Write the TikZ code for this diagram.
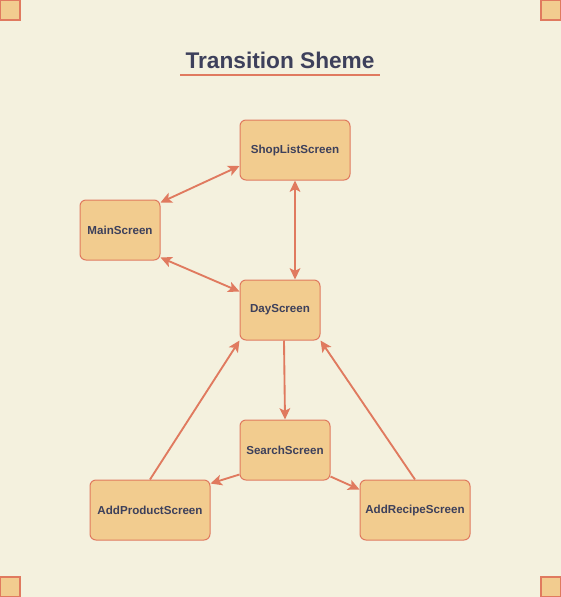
\documentclass[tikz,border=0pt]{standalone}
\usepackage{fontspec}
\setmainfont{Liberation Sans}
\usetikzlibrary{arrows.meta}
\definecolor{paper}{HTML}{F4F1DE}
\definecolor{boxfill}{HTML}{F2CC8F}
\definecolor{boxline}{HTML}{E07A5F}
\definecolor{ink}{HTML}{3D405B}
\tikzset{
	screen/.style={draw=boxline, fill=boxfill, rounded corners=4.5pt, line width=0.75pt,
		inner sep=0pt, text=ink, font=\fontsize{8.7}{10}\selectfont\bfseries},
	corner/.style={draw=boxline, fill=boxfill, line width=1.1pt},
	tip/.tip={Stealth[length=8.5pt,width=8pt,inset=2pt]},
	link/.style={draw=boxline, line width=1.4pt, -tip},
	both/.style={draw=boxline, line width=1.4pt, tip-tip}
}
\begin{document}
\begin{tikzpicture}[x=0.75pt, y=-0.75pt]
	        \fill [paper] (0, 0) rectangle (561, 597);
	        \useasboundingbox (0, 0) rectangle (561, 597);
	        
	        % corner marks
	        \draw [corner] (0.6, 0.6) rectangle (20, 20);
	        \draw [corner] (541, 0.6) rectangle (560.4, 20);
	        \draw [corner] (0.6, 577) rectangle (20, 596.4);
	        \draw [corner] (541, 577) rectangle (560.4, 596.4);
	        
	        % title
	        \node [inner sep=0pt, text=ink, font=\fontsize{17}{20}\selectfont\bfseries] at (280, 60) (title) {Transition Sheme};
	        \draw [boxline, line width=1.4pt] (180, 75) -- (380, 75);
	        
	        \node [screen, minimum width=82.5pt, minimum height=45pt] at (295, 150) (shop) {ShopListScreen};
	        \node [screen, minimum width=60pt, minimum height=45pt] at (120, 230) (main) {MainScreen};
	        \node [screen, minimum width=60pt, minimum height=45pt] at (280, 310) (day) {DayScreen};
	        \node [screen, minimum width=67.5pt, minimum height=45pt] at (285, 450) (search) {SearchScreen};
	        \node [screen, minimum width=90pt, minimum height=45pt] at (150, 510) (product) {AddProductScreen};
	        \node [screen, minimum width=82.5pt, minimum height=45pt] at (415, 510) (recipe) {AddRecipeScreen};
	        
	        % end points on the box edges
	        \path (main.north east) ++(0, 3) coordinate (m1);
	        \path (shop.west) ++(0, 16) coordinate (s1);
	        \path (main.south east) ++(0, -3) coordinate (m2);
	        \path (day.north west) ++(0, 12) coordinate (d1);
	        \path (day.south) ++(4, 0) coordinate (d2);
	        \path (search.south west) ++(0, -6) coordinate (s3);
	        \path (product.north east) ++(0, 4) coordinate (p1);
	        \path (search.south east) ++(0, -4) coordinate (s4);
	        \path (recipe.north west) ++(0, 10) coordinate (r1);
	        
	        \draw [both] (m1) -- (s1);
	        \draw [both] (m2) -- (d1);
	        \draw [both] (shop.south) -- (day.north -| shop.south);
	        \draw [link] (d2) -- (search.north);
	        \draw [link] (s3) -- (p1);
	        \draw [link] (s4) -- (r1);
	        \draw [link] (product.north) -- (day.south west);
	        \draw [link] (recipe.north) -- (day.south east);
        \end{tikzpicture}
\end{document}
